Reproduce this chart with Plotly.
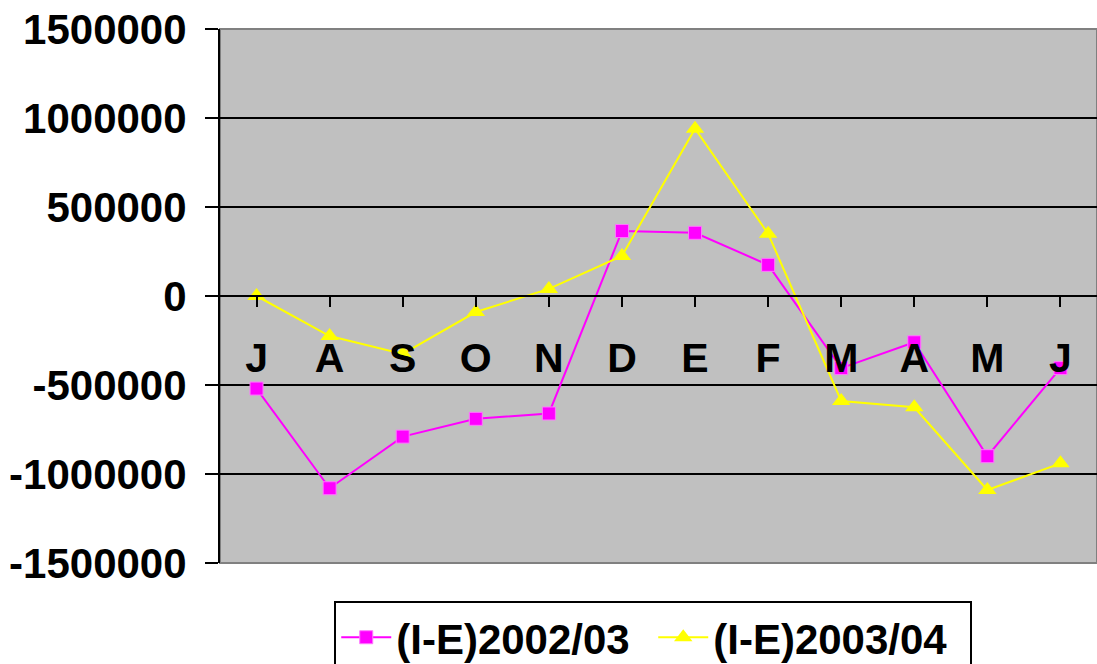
import plotly.graph_objects as go

months = ["J", "A", "S", "O", "N", "D", "E", "F", "M", "A", "M", "J"]
series_2002 = [-520000, -1080000, -790000, -690000, -660000, 365000, 355000, 175000, -405000, -260000, -900000, -405000]
series_2003 = [0, -225000, -325000, -90000, 40000, 225000, 940000, 350000, -590000, -625000, -1090000, -940000]
y_tick_vals = [1500000, 1000000, 500000, 0, -500000, -1000000, -1500000]
y_tick_text = ["1500000", "1000000", "500000", "0", "-500000", "-1000000", "-1500000"]

x_idx = list(range(len(months)))
FONT = "Liberation Sans, Arial, sans-serif"

fig = go.Figure()
fig.add_trace(go.Scatter(
    x=x_idx, y=series_2002, name="(I-E)2002/03", mode="lines+markers",
    line=dict(color="#FF00FF", width=2),
    marker=dict(symbol="square", size=13, color="#FF00FF",
                line=dict(color="#FF77FF", width=1)),
))
fig.add_trace(go.Scatter(
    x=x_idx, y=series_2003, name="(I-E)2003/04", mode="lines+markers",
    line=dict(color="#FFFF00", width=2),
    marker=dict(symbol="triangle-up", size=16, color="#FFFF00"),
))

fig.update_layout(
    width=1097, height=664,
    margin=dict(l=220, r=0, t=29, b=101, autoexpand=False),
    paper_bgcolor="white",
    plot_bgcolor="#C0C0C0",
    showlegend=True,
    legend=dict(
        orientation="h", x=0.494, xanchor="center", y=-0.072, yanchor="top",
        bordercolor="black", borderwidth=2, bgcolor="white",
        font=dict(family=FONT, size=42, color="black", weight="bold"),
        itemwidth=50, tracegroupgap=0,
        entrywidth=252, entrywidthmode="pixels",
    ),
    shapes=[dict(type="rect", xref="paper", yref="paper", x0=0, x1=1, y0=0, y1=1,
                 line=dict(color="#808080", width=2), layer="below")],
)

fig.update_xaxes(
    range=[-0.5, 11.5],
    tickvals=x_idx, ticktext=months,
    anchor="free", position=0.5, automargin=False,
    showline=True, linecolor="black", linewidth=2,
    ticks="outside", tickson="boundaries", ticklen=10, tickcolor="black", tickwidth=2,
    ticklabelstandoff=16,
    showgrid=False, zeroline=False,
    tickfont=dict(family=FONT, size=41, color="black", weight="bold"),
)
fig.update_yaxes(
    range=[-1500000, 1500000],
    tickvals=y_tick_vals, ticktext=y_tick_text, automargin=False,
    showline=True, linecolor="black", linewidth=2,
    ticks="outside", ticklen=13, tickcolor="black", tickwidth=2,
    ticklabelstandoff=10,
    showgrid=True, gridcolor="black", gridwidth=1.5,
    zeroline=False,
    tickfont=dict(family=FONT, size=42, color="black", weight="bold"),
)

fig.write_html(
    "out.html",
    config={"displayModeBar": False},
    post_script="document.body.style.margin='0px';document.body.style.overflow='hidden';",
)
